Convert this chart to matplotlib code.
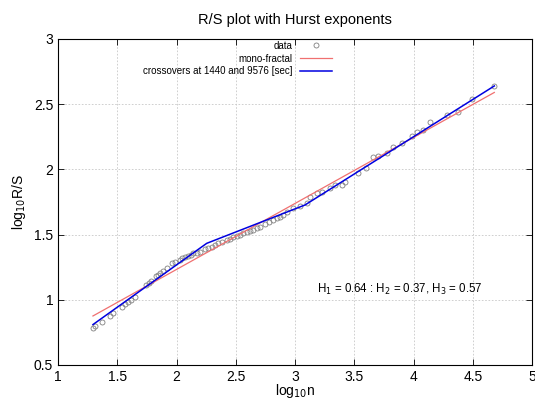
import matplotlib
matplotlib.use("Agg")
import matplotlib.pyplot as plt

plt.rcParams['font.family'] = ['Liberation Sans', 'DejaVu Sans']

# data
data_x = [1.295, 1.312, 1.371, 1.436, 1.464, 1.543, 1.568, 1.591, 1.619, 1.647,
          1.745, 1.768, 1.787, 1.830, 1.847, 1.861, 1.889, 1.917, 1.959, 1.985,
          2.030, 2.050, 2.072, 2.100, 2.120, 2.142, 2.170, 2.198, 2.241, 2.268,
          2.300, 2.325, 2.350, 2.381, 2.424, 2.450, 2.479, 2.510, 2.536, 2.565,
          2.592, 2.620, 2.648, 2.680, 2.705, 2.747, 2.780, 2.817, 2.845, 2.873,
          2.896, 2.930, 2.986, 3.042, 3.099, 3.127, 3.183, 3.225, 3.295, 3.338,
          3.394, 3.422, 3.534, 3.599, 3.661, 3.703, 3.774, 3.830, 3.900, 3.985,
          4.027, 4.078, 4.139, 4.280, 4.378, 4.491, 4.682]
data_y = [0.786, 0.800, 0.832, 0.876, 0.897, 0.947, 0.968, 0.985, 0.998, 1.024,
          1.114, 1.131, 1.144, 1.185, 1.192, 1.203, 1.223, 1.241, 1.280, 1.292,
          1.305, 1.318, 1.330, 1.336, 1.345, 1.356, 1.362, 1.369, 1.387, 1.395,
          1.408, 1.420, 1.432, 1.446, 1.459, 1.466, 1.479, 1.488, 1.497, 1.510,
          1.522, 1.528, 1.535, 1.550, 1.561, 1.581, 1.595, 1.612, 1.625, 1.637,
          1.650, 1.676, 1.702, 1.720, 1.745, 1.791, 1.817, 1.829, 1.855, 1.880,
          1.882, 1.906, 1.975, 2.008, 2.097, 2.103, 2.128, 2.170, 2.199, 2.256,
          2.289, 2.302, 2.366, 2.417, 2.443, 2.538, 2.640]

mono_x = [1.295, 4.682]
mono_y = [0.876, 2.590]

cross_x = [1.295, 2.255, 3.084, 4.682]
cross_y = [0.810, 1.433, 1.727, 2.640]

xticks = [1, 1.5, 2, 2.5, 3, 3.5, 4, 4.5, 5]
xticklabels = ['1', '1.5', '2', '2.5', '3', '3.5', '4', '4.5', '5']
yticks = [0.5, 1, 1.5, 2, 2.5, 3]
yticklabels = ['0.5', '1', '1.5', '2', '2.5', '3']

fig = plt.figure(figsize=(5.35, 4.0), dpi=100)
ax = fig.add_axes([58/535, 35/400, 474/535, 326/400])

ax.plot(data_x, data_y, linestyle='none', marker='o', markersize=3.6,
        markerfacecolor='none', markeredgecolor='#808080', markeredgewidth=0.6,
        label='data')
ax.plot(mono_x, mono_y, color='#f07070', linewidth=0.9, label='mono-fractal')
ax.plot(cross_x, cross_y, color='#0000e0', linewidth=1.1,
        label='crossovers at 1440 and 9576 [sec]')

ax.set_xlim(1, 5)
ax.set_ylim(0.5, 3)
ax.set_xticks(xticks)
ax.set_xticklabels(xticklabels)
ax.set_yticks(yticks)
ax.set_yticklabels(yticklabels)
ax.tick_params(direction='in', top=True, right=True, labelsize=10, length=4,
               width=0.6)
ax.grid(True, linestyle=(0, (2, 2)), color='#c8c8c8', linewidth=0.6)
for s in ax.spines.values():
    s.set_linewidth(0.8)

ax.set_title('R/S plot with Hurst exponents', fontsize=10.5, pad=11)
ax.set_xlabel('log$_{10}$n', fontsize=10, labelpad=-1)
ax.set_ylabel('log$_{10}$R/S', fontsize=10, labelpad=4)

ax.text(3.186, 1.083, 'H$_1$ = 0.64 : H$_2$ = 0.37, H$_3$ = 0.57',
        fontsize=8.3, va='center', ha='left')

leg = ax.legend(loc='upper right', bbox_to_anchor=(0.578, 0.995),
                frameon=False, markerfirst=False, fontsize=7,
                borderaxespad=0, borderpad=0, handlelength=3.3,
                handletextpad=0.8, labelspacing=0.3)

fig.savefig('out.png', dpi=100)
